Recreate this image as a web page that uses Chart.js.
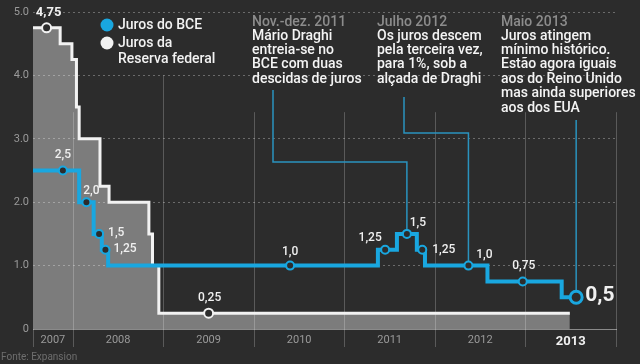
<!DOCTYPE html>
<html>
<head>
<meta charset="utf-8">
<script src="https://cdn.jsdelivr.net/npm/chart.js@4.4.1/dist/chart.umd.min.js"></script>
<style>
    html, body { margin: 0; padding: 0; background: #2c2c2c; }
    #wrap { width: 640px; height: 364px; }
</style>
</head>
<body>
<div id="wrap"><canvas id="chart" width="640" height="364"></canvas></div>
<script>
// ECB rate, step changes (decimal year, %)
const ecbStepDates = [2007.56, 2008.07, 2008.23, 2008.32, 2008.39, 2011.37, 2011.58, 2011.80, 2011.89, 2012.58, 2013.40, 2013.56];
const ecbStepRates = [2.5, 2.0, 1.5, 1.25, 1.0, 1.25, 1.5, 1.25, 1.0, 0.75, 0.5, 0.5];

// Fed rate, step changes
const fedStepDates = [2007.56, 2007.86, 2007.99, 2008.04, 2008.07, 2008.30, 2008.40, 2008.84, 2008.88, 2008.95, 2013.49];
const fedStepRates = [4.75, 4.5, 4.25, 3.5, 3.0, 2.25, 2.0, 1.5, 1.0, 0.25, 0.25];

// labelled markers
const ecbMarkDates = [2007.89, 2008.15, 2008.29, 2008.36, 2010.40, 2011.45, 2011.69, 2011.86, 2012.37, 2012.97, 2013.56];
const ecbMarkRates = [2.5, 2.0, 1.5, 1.25, 1.0, 1.25, 1.5, 1.25, 1.0, 0.75, 0.5];
const ecbMarkLabels = ['2,5', '2,0', '1,5', '1,25', '1,0', '1,25', '1,5', '1,25', '1,0', '0,75', '0,5'];
const fedMarkDates = [2007.71, 2009.50];
const fedMarkRates = [4.75, 0.25];
const fedMarkLabels = ['4,75', '0,25'];

// axes
const yearLabels = ['2007', '2008', '2009', '2010', '2011', '2012', '2013'];
const yearTickPos = [2007.78, 2008.5, 2009.5, 2010.5, 2011.5, 2012.5, 2013.5];
const yearBounds = [2007.56, 2008, 2009, 2010, 2011, 2012, 2013, 2014];
const rateTicks = [0, 1, 2, 3, 4, 5];

const FONT = 'Roboto, "Noto Sans", sans-serif';
const BG = '#2c2c2c';
const BLUE = '#19a7e0';
const WHITE = '#f2f2f2';

const toPoints = (xs, ys) => xs.map((x, i) => ({ x: x, y: ys[i] }));

// label placement: [dx, dy, align, size, weight]
const ecbLabelPlace = [
    [0, -16, 'center'], [5, -11, 'center'], [9, -1, 'left'], [8, -1, 'left'],
    [0, -14, 'center'], [-15, -12, 'center'], [11, -11, 'center'], [10, 0, 'left'],
    [16, -11, 'center'], [1, -15, 'center'], [9, -2, 'left', 21, 'bold']
];
const fedLabelPlace = [[2, -15, 'center', 13, 'bold'], [1, -15, 'center']];

const notes = [
    { x: 252, title: 'Nov.-dez. 2011', lines: ['Mário Draghi', 'entreia-se no', 'BCE com duas', 'descidas de juros'],
      lineX: 273, top: 90, elbow: 162, target: 6 },
    { x: 377, title: 'Julho 2012', lines: ['Os juros descem', 'pela terceira vez,', 'para 1%, sob a', 'alçada de Draghi'],
      lineX: 404, top: 97, elbow: 133, target: 8 },
    { x: 501, title: 'Maio 2013', lines: ['Juros atingem', 'mínimo histórico.', 'Estão agora iguais', 'aos do Reino Unido', 'mas ainda superiores', 'aos dos EUA'],
      lineX: null, top: 120, elbow: null, target: 10 }
];

const decorPlugin = {
    id: 'decor',
    beforeDatasetsDraw(chart) {
        const { ctx, chartArea, scales: { x, y } } = chart;
        ctx.save();
        // year separators
        ctx.strokeStyle = 'rgba(255,255,255,0.22)';
        ctx.lineWidth = 1;
        yearBounds.forEach((b, i) => {
            const px = Math.round(x.getPixelForValue(b)) + 0.5;
            const topVal = i === 0 ? 0 : (b === 2009 ? 4.0 : 3.42);
            ctx.beginPath();
            ctx.moveTo(px, y.getPixelForValue(topVal));
            ctx.lineTo(px, chartArea.bottom + 18);
            ctx.stroke();
        });
        // note connectors
        ctx.strokeStyle = '#2a93bf';
        ctx.lineWidth = 1.5;
        notes.forEach(n => {
            const tx = x.getPixelForValue(ecbMarkDates[n.target]);
            const ty = y.getPixelForValue(ecbMarkRates[n.target]);
            ctx.beginPath();
            if (n.lineX !== null) {
                ctx.moveTo(n.lineX, n.top);
                ctx.lineTo(n.lineX, n.elbow);
                ctx.lineTo(tx, n.elbow);
            } else {
                ctx.moveTo(tx, n.top);
            }
            ctx.lineTo(tx, ty);
            ctx.stroke();
        });
        ctx.restore();
    },
    afterDatasetsDraw(chart) {
        const { ctx, scales: { x, y } } = chart;
        ctx.save();
        ctx.textBaseline = 'middle';
        const drawLabels = (dates, rates, labels, place) => {
            labels.forEach((t, i) => {
                const p = place[i];
                ctx.font = (p[4] || '500') + ' ' + (p[3] || 12) + 'px ' + FONT;
                ctx.textAlign = p[2];
                ctx.fillStyle = '#f0f0f0';
                ctx.fillText(t, x.getPixelForValue(dates[i]) + p[0], y.getPixelForValue(rates[i]) + p[1]);
            });
        };
        drawLabels(ecbMarkDates, ecbMarkRates, ecbMarkLabels, ecbLabelPlace);
        drawLabels(fedMarkDates, fedMarkRates, fedMarkLabels, fedLabelPlace);
        ctx.restore();
    },
    afterDraw(chart) {
        const { ctx } = chart;
        ctx.save();
        ctx.textBaseline = 'middle';
        ctx.textAlign = 'left';
        // legend
        ctx.fillStyle = BLUE;
        ctx.beginPath(); ctx.arc(107, 25, 6.5, 0, Math.PI * 2); ctx.fill();
        ctx.fillStyle = WHITE;
        ctx.beginPath(); ctx.arc(107, 43, 6.5, 0, Math.PI * 2); ctx.fill();
        ctx.font = '500 14px ' + FONT;
        ctx.fillText('Juros do BCE', 118, 25);
        ctx.fillText('Juros da', 118, 43);
        ctx.fillText('Reserva federal', 118, 59);
        // notes
        notes.forEach(n => {
            ctx.fillStyle = '#8c8c8c';
            ctx.fillText(n.title, n.x, 22);
            ctx.fillStyle = '#f4f4f4';
            n.lines.forEach((l, i) => ctx.fillText(l, n.x, 36 + i * 14.4));
        });
        // source
        ctx.fillStyle = '#6e6e6e';
        ctx.font = '10px ' + FONT;
        ctx.fillText('Fonte: Expansion', 1, 357);
        ctx.restore();
    }
};

new Chart(document.getElementById('chart'), {
    type: 'line',
    data: {
        datasets: [
            {
                data: toPoints(ecbMarkDates, ecbMarkRates),
                showLine: false,
                pointRadius: ctx => ctx.dataIndex === ecbMarkDates.length - 1 ? 6 : 4,
                pointBorderWidth: ctx => ctx.dataIndex === ecbMarkDates.length - 1 ? 3 : 2,
                pointBackgroundColor: BG,
                pointBorderColor: BLUE,
                order: 0
            },
            {
                data: toPoints(ecbStepDates, ecbStepRates),
                stepped: true,
                borderColor: BLUE,
                borderWidth: 4,
                borderJoinStyle: 'miter',
                pointRadius: 0,
                fill: false,
                order: 1
            },
            {
                data: toPoints(fedMarkDates, fedMarkRates),
                showLine: false,
                pointRadius: 4.5,
                pointBorderWidth: 2,
                pointBackgroundColor: BG,
                pointBorderColor: WHITE,
                order: 2
            },
            {
                data: toPoints(fedStepDates, fedStepRates),
                stepped: true,
                borderColor: WHITE,
                borderWidth: 3,
                borderJoinStyle: 'miter',
                pointRadius: 0,
                fill: 'origin',
                backgroundColor: 'rgba(255,255,255,0.38)',
                order: 3
            }
        ]
    },
    options: {
        responsive: false,
        animation: false,
        layout: { padding: { top: 12, right: 24, left: 0, bottom: 0 } },
        plugins: { legend: { display: false }, tooltip: { enabled: false } },
        scales: {
            x: {
                type: 'linear',
                min: 2007.56,
                max: 2014,
                afterBuildTicks: s => { s.ticks = yearTickPos.map(v => ({ value: v })); },
                afterFit: s => { s.height = 35; },
                ticks: {
                    autoSkip: false,
                    maxRotation: 0,
                    padding: 5,
                    callback: (v, i) => yearLabels[i],
                    color: c => c.index === 6 ? '#f0f0f0' : '#9a9a9a',
                    font: c => c.index === 6 ? { family: FONT, size: 13, weight: 'bold' } : { family: FONT, size: 11 }
                },
                grid: { display: false, drawTicks: false },
                border: { display: true, color: '#8a8a8a', width: 1 }
            },
            y: {
                min: 0,
                max: 5,
                afterBuildTicks: s => { s.ticks = rateTicks.map(v => ({ value: v })); },
                afterFit: s => { s.width = 33; },
                ticks: {
                    padding: 4,
                    color: '#9a9a9a',
                    font: { family: FONT, size: 11 },
                    callback: v => v === 0 ? '0' : v.toFixed(1)
                },
                grid: {
                    drawTicks: false,
                    color: c => (c.tick && c.tick.value === 0) ? 'rgba(0,0,0,0)' : 'rgba(255,255,255,0.3)'
                },
                border: { display: false, dash: [2, 3] }
            }
        }
    },
    plugins: [decorPlugin]
});
</script>
</body>
</html>
